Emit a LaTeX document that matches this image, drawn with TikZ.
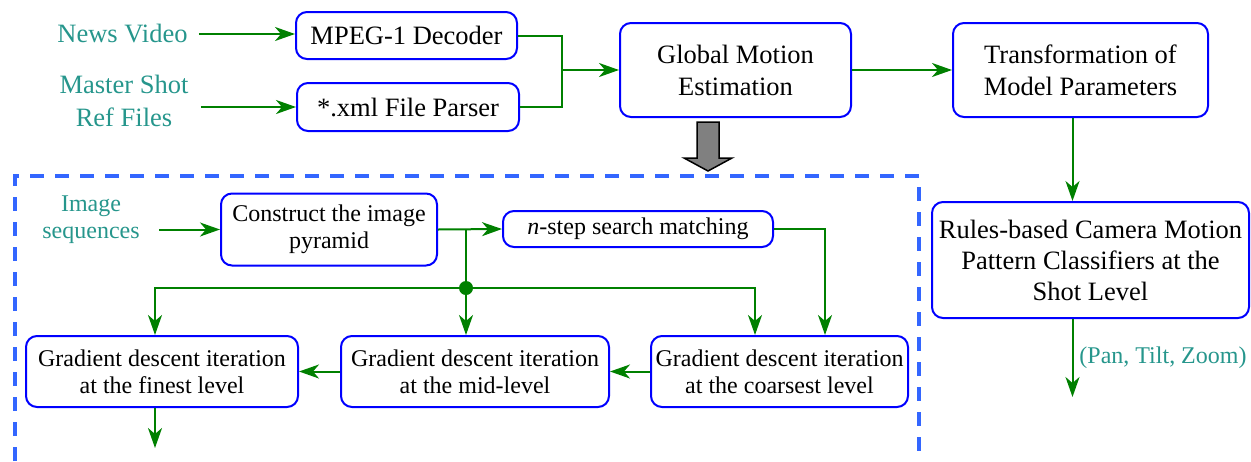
\documentclass[tikz,border=0pt]{standalone}
\usepackage{fontspec}
\setmainfont{Liberation Serif}
\usetikzlibrary{arrows.meta,calc}
\definecolor{tealtxt}{RGB}{38,150,140}
\definecolor{flowgreen}{RGB}{0,128,0}
\definecolor{boxblue}{RGB}{0,0,255}
\definecolor{dashblue}{RGB}{51,102,255}
\begin{document}
\begin{tikzpicture}[x=0.5pt,y=-0.5pt,
  bigtxt/.style={font=\fontsize{13.25}{16}\selectfont},
  smalltxt/.style={font=\fontsize{12}{13.5}\selectfont},
  box/.style={draw=boxblue, line width=1pt, rounded corners=5.5pt, fill=white, align=center, inner sep=0pt},
  lbl/.style={text=tealtxt, align=center, inner sep=0pt},
  link/.style={draw=flowgreen, line width=1pt},
  arr/.style={link, -{Stealth[length=10pt,width=7pt,inset=3pt]}}]
\useasboundingbox (0,0) rectangle (1251,461);

% dashed frame
\draw[dashblue, line width=1.75pt, dash pattern=on 7pt off 5.5pt] (15,461) -- (15,176) -- (919,176) -- (919,461);

% block arrow
\draw[fill=gray, draw=black, line width=0.75pt] (697,122) -- (719,122) -- (719,158) -- (732,158) -- (708,171) -- (684,158) -- (697,158) -- cycle;

% nodes
\node[lbl,bigtxt] (news) at (122.5,34) {News Video};
\node[lbl,font=\fontsize{13.25}{16.5}\selectfont] (master) at (124,100.5) {Master Shot\\Ref Files};
\node[box,bigtxt,minimum width=110.5pt,minimum height=23.5pt] (mpeg) at (406.5,35.5) {MPEG-1 Decoder};
\node[box,bigtxt,minimum width=111pt,minimum height=24pt] (xml) at (408,107) {*.xml File Parser};
\node[box,bigtxt,minimum width=115.5pt,minimum height=47pt] (global) at (735.5,70) {Global Motion\\Estimation};
\node[box,bigtxt,minimum width=127.5pt,minimum height=47pt] (trans) at (1080.5,70) {Transformation of\\Model Parameters};
\node[box,font=\fontsize{13.25}{15.5}\selectfont,minimum width=158.5pt,minimum height=58pt] (rules) at (1090.5,260) {Rules-based Camera Motion\\Pattern Classifiers at the\\Shot Level};
\node[lbl,smalltxt,anchor=west] (pan) at (1079,358) {(Pan, Tilt, Zoom)};
\node[lbl,smalltxt] (imgseq) at (91,220) {Image\\sequences};
\node[box,smalltxt,minimum width=108pt,minimum height=36pt] (construct) at (329,229.5) {Construct the image\\pyramid};
\node[box,smalltxt,minimum width=135pt,minimum height=18pt] (nstep) at (638,229) {\textit{n}-step search matching};
\node[box,smalltxt,minimum width=136pt,minimum height=35.5pt] (finest) at (162,371.5) {Gradient descent iteration\\at the finest level};
\node[box,smalltxt,minimum width=134pt,minimum height=35.5pt] (mid) at (475,371.5) {Gradient descent iteration\\at the mid-level};
\node[box,smalltxt,minimum width=128.5pt,minimum height=35.5pt] (coarse) at (779.5,371.5) {Gradient descent iteration\\at the coarsest level};

% helper coordinates
\coordinate (m) at (562,70);
\coordinate (br) at (466,229);
\coordinate (dc) at (466,288);
\coordinate (hl) at (155,288);
\coordinate (hr) at (755,288);
\coordinate (cr) at (825,229);
\coordinate (fo) at (155,448);
\coordinate (out) at (1072.5,397);

% connectors (top)
\draw[arr, shorten <=5.5pt] (news.east) -- (news.east -| mpeg.west);
\draw[arr, shorten <=6pt] (master.east |- xml.west) -- (xml.west);
\draw[link] (mpeg.east) -| (m) |- (xml.east);
\draw[arr] (m) -- (global.west);
\draw[arr] (global.east) -- (trans.west);
\draw[arr] ([xshift=-4pt]trans.south) -- ([xshift=-4pt]trans.south |- rules.north);
\draw[arr] (out |- rules.south) -- (out);

% connectors (dashed section)
\draw[arr, shorten <=9.5pt] (imgseq.east |- construct.west) -- (construct.west);
\draw[arr] (construct.east) -- (nstep.west);
\draw[link] (br) -- (dc);
\draw[arr] (dc) -| (hl |- finest.north);
\draw[arr] (dc) -- (dc |- mid.north);
\draw[arr] (dc) -| (hr |- coarse.north);
\draw[arr] (nstep.east) -| (cr |- coarse.north);
\draw[arr] (coarse.west) -- (mid.east);
\draw[arr] (mid.west) -- (finest.east);
\draw[arr] (hl |- finest.south) -- (fo);
\node[circle, fill=flowgreen, inner sep=0pt, minimum size=7pt] (dot) at (dc) {};
\end{tikzpicture}
\end{document}
